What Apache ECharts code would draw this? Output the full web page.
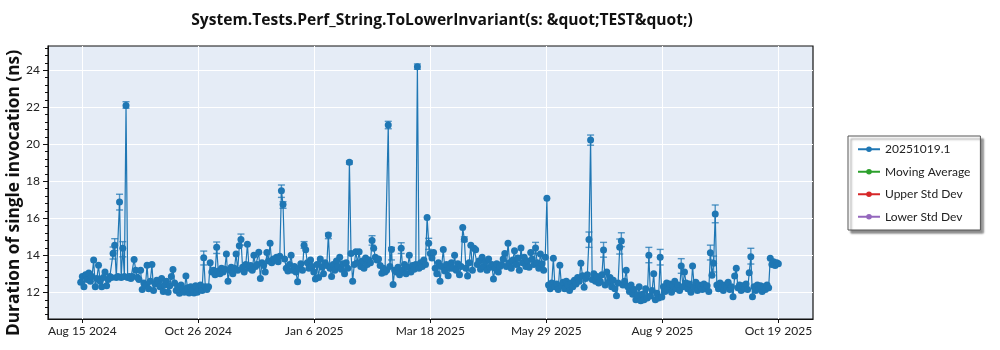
<!DOCTYPE html>
<html>
<head>
<meta charset="utf-8">
<script src="https://cdn.jsdelivr.net/npm/echarts@6/dist/echarts.min.js"></script>
<style>
  html, body { margin: 0; padding: 0; background: #fff; }
  #chart { width: 1000px; height: 350px; }
</style>
</head>
<body>
<div id="chart"></div>
<script>
// daily results, one value per day, per month
var aug24 = [12.55,12.85,12.3,12.95,12.7,13.05,12.6,12.85,13.75,12.3,12.75,13.46,12.6,12.3,12.8,13.1,12.35,12.7]; // from Aug 14
var sep24 = [12.85,12.8,14.1,14.55,12.8,12.85,16.88,12.8,14.38,12.85,22.1,12.8,12.85,12.75,12.85,13.78,13.2,12.8,12.7,13.2,12.15,12.5,12.35,13.47,12.2,12.6,13.5,12.1,12.45,12.65];
var oct24 = [12.55,12.3,12.75,12.05,12.4,12.6,12.0,12.35,12.85,13.24,12.5,12.1,12.3,11.95,12.4,12.2,12.0,12.88,12.25,11.96,12.3,12.1,11.97,12.35,12.0,12.2,12.4,12.1,13.87,12.3,12.15];
var nov24 = [12.3,13.6,13.1,13.2,12.95,14.43,13.15,13.0,13.3,13.1,13.25,14.07,12.6,13.2,13.35,13.0,13.3,14.07,13.2,14.52,14.86,13.35,13.1,13.5,14.6,13.3,13.45,13.2,14.0,13.4];
var dec24 = [13.5,14.16,12.75,13.6,13.45,13.1,14.15,13.7,14.65,13.6,13.8,13.75,13.9,13.65,13.95,17.49,16.74,13.8,13.3,13.15,13.5,14.0,13.2,13.4,13.1,12.57,13.3,13.55,13.2,14.55,14.3];
var jan25 = [13.6,13.3,13.75,13.4,13.1,12.72,13.5,12.8,13.8,13.35,13.0,13.6,13.45,15.1,13.3,12.85,13.5,13.2,13.7,13.4,13.9,13.25,13.55,13.0,13.6,13.3,19.03,14.1,12.6,13.5,14.2];
var feb25 = [13.6,14.2,13.4,13.7,13.3,13.85,13.5,13.75,13.6,14.8,14.38,13.9,13.75,13.8,13.45,13.03,13.3,13.1,13.2,21.04,13.4,14.32,12.43,13.2,13.1,13.35,12.95,14.38];
var mar25 = [13.2,13.5,13.0,13.35,14.0,13.1,13.45,13.25,13.5,24.19,13.3,13.6,13.4,13.75,13.5,16.05,14.65,14.1,13.85,14.15,13.3,13.0,13.6,12.6,13.4,14.32,13.15,13.5,12.9,13.3,13.6];
var apr25 = [13.3,14.0,13.2,13.55,12.95,13.4,15.5,14.86,13.3,12.88,13.6,14.55,13.2,14.38,14.3,13.5,13.7,13.25,13.9,13.4,13.65,13.2,13.8,13.35,13.5,12.72,13.3,13.55,13.1,13.4];
var may25 = [13.5,13.8,14.1,13.4,14.65,13.6,13.3,13.75,14.25,13.5,13.85,13.2,14.4,13.6,13.9,13.4,13.7,13.35,14.15,13.8,13.5,14.4,13.6,13.3,14.07,13.55,13.2,13.9,17.08,12.4,12.2];
var jun25 = [12.5,13.84,12.3,12.45,12.15,13.47,12.35,12.55,12.2,12.6,12.4,12.1,12.5,12.3,12.65,12.45,12.8,12.6,13.57,12.9,12.27,12.75,12.95,14.86,20.23,12.7,13.0,12.6,12.85,12.5];
var jul25 = [12.6,12.95,14.29,12.4,13.1,12.55,12.8,12.3,12.65,12.2,11.82,12.5,14.43,14.77,12.4,12.6,13.2,12.3,12.05,12.4,11.9,12.15,11.6,11.85,12.3,11.55,11.9,11.6,12.2,11.7,14.0];
var aug25 = [11.8,12.1,13.0,11.6,11.95,11.7,13.89,11.75,12.3,12.05,12.5,12.2,12.45,12.0,12.35,12.6,12.2,12.4,12.1,13.42,12.3,13.1,12.5,12.2,12.45,12.0,13.42,12.3,12.55,12.1,12.4];
var sep25 = [12.3,12.15,12.45,12.2,12.35,12.05,14.14,12.93,13.57,16.23,12.4,12.2,12.5,12.25,12.1,12.4,12.3,12.55,12.15,12.3,11.76,12.88,13.3,12.25,12.4,12.1,12.35,12.2,12.45,12.15];
var oct25 = [13.06,13.93,11.76,12.3,12.1,12.4,12.2,12.35,12.05,12.3,12.15,12.4,12.25,13.84,13.5,13.65,13.45,13.6,13.55];

// visible error bars: date, low, high
var errBars = [
  ['2024-09-03', 13.8, 14.45], ['2024-09-04', 14.25, 14.9], ['2024-09-07', 16.45, 17.3],
  ['2024-09-09', 13.92, 14.74], ['2024-09-11', 21.95, 22.3], ['2024-10-29', 13.48, 14.23],
  ['2024-11-06', 14.1, 14.72], ['2024-11-21', 14.55, 15.15], ['2024-12-16', 17.13, 17.8],
  ['2024-12-17', 16.54, 16.9], ['2024-12-30', 14.38, 14.74], ['2025-01-14', 14.9, 15.2],
  ['2025-01-27', 18.93, 19.1], ['2025-02-10', 14.55, 15.06], ['2025-02-20', 20.84, 21.24],
  ['2025-02-22', 13.75, 14.43], ['2025-02-28', 14.1, 14.68], ['2025-03-10', 24.05, 24.34],
  ['2025-03-17', 14.32, 14.92], ['2025-04-08', 14.74, 15.0], ['2025-05-22', 14.1, 14.7],
  ['2025-06-24', 14.43, 15.26], ['2025-06-25', 19.95, 20.5], ['2025-07-03', 13.9, 14.7],
  ['2025-07-13', 14.07, 14.88], ['2025-07-14', 14.47, 15.22], ['2025-07-31', 13.6, 14.43],
  ['2025-08-07', 13.48, 14.32], ['2025-08-20', 13.03, 13.82], ['2025-09-07', 13.75, 14.55],
  ['2025-09-09', 13.1, 13.96], ['2025-09-10', 15.76, 16.72], ['2025-10-02', 13.53, 14.38]
];

var seriesNames = ['20251019.1', 'Moving Average', 'Upper Std Dev', 'Lower Std Dev'];
var seriesColors = ['#1f77b4', '#2ca02c', '#d62728', '#9467bd'];
var xTickDays = [0, 71.6667, 143.3333, 215, 286.6667, 358.3333, 430];
var yTicks = [12, 14, 16, 18, 20, 22, 24];

var DAY = 86400000;
var origin = Date.UTC(2024, 7, 15);
var MONTHS = ['Jan','Feb','Mar','Apr','May','Jun','Jul','Aug','Sep','Oct','Nov','Dec'];

var points = [];
function addMonth(year, month, firstDay, vals) {
    vals.forEach(function (v, i) {
        points.push([(Date.UTC(year, month, firstDay + i) - origin) / DAY, v]);
    });
}
addMonth(2024, 7, 14, aug24); addMonth(2024, 8, 1, sep24); addMonth(2024, 9, 1, oct24);
addMonth(2024, 10, 1, nov24); addMonth(2024, 11, 1, dec24); addMonth(2025, 0, 1, jan25);
addMonth(2025, 1, 1, feb25); addMonth(2025, 2, 1, mar25); addMonth(2025, 3, 1, apr25);
addMonth(2025, 4, 1, may25); addMonth(2025, 5, 1, jun25); addMonth(2025, 6, 1, jul25);
addMonth(2025, 7, 1, aug25); addMonth(2025, 8, 1, sep25); addMonth(2025, 9, 1, oct25);

var errData = errBars.map(function (e) {
    var p = e[0].split('-');
    return [(Date.UTC(+p[0], +p[1] - 1, +p[2]) - origin) / DAY, e[1], e[2]];
});

// minor tick positions on the y axis (every 0.4)
var yMinor = [];
for (var m = 10.8; m < 25.3; m += 0.4) yMinor.push(Math.round(m * 10) / 10);

function dayLabel(v) {
    var d = new Date(origin + Math.ceil(v - 0.001) * DAY);
    return MONTHS[d.getUTCMonth()] + ' ' + d.getUTCDate() + ' ' + d.getUTCFullYear();
}

var FONT = 'Lato';
var myChart = echarts.init(document.getElementById('chart'));
var option = {
    animation: false,
    title: {
        text: 'System.Tests.Perf_String.ToLowerInvariant(s: &quot;TEST&quot;)',
        left: 437, top: 8, textAlign: 'center',
        textStyle: { fontFamily: 'Open Sans', fontSize: 15.6, fontWeight: 'bold', color: '#111' }
    },
    graphic: [{
        type: 'text', x: 14, y: 193, rotation: Math.PI / 2,
        style: {
            text: 'Duration of single invocation (ns)', fontFamily: 'Open Sans', fontSize: 17.3,
            fontWeight: 'bold', fill: '#111', align: 'center', verticalAlign: 'middle'
        }
    }],
    legend: {
        orient: 'vertical', left: 848, top: 136,
        data: seriesNames,
        itemWidth: 22, itemHeight: 7, itemGap: 8,
        padding: [6, 10, 6, 9],
        borderColor: '#555', borderWidth: 1, backgroundColor: '#fff',
        shadowColor: 'rgba(0,0,0,0.45)', shadowBlur: 2, shadowOffsetX: 3, shadowOffsetY: 3,
        textStyle: { fontFamily: FONT, fontSize: 12, color: '#222', lineHeight: 14.5 }
    },
    grid: {
        left: 48, right: 187, top: 46, bottom: 31,
        show: true, backgroundColor: '#E5ECF6', borderColor: '#111', borderWidth: 1.2
    },
    xAxis: {
        type: 'value', min: -21.2, max: 451.4,
        axisLine: { show: true, onZero: false, lineStyle: { color: '#111' } },
        axisTick: { show: true, length: 4, customValues: xTickDays, lineStyle: { color: '#111' } },
        axisLabel: {
            customValues: xTickDays, formatter: dayLabel, margin: 6,
            fontFamily: FONT, fontSize: 12, color: '#222'
        },
        splitLine: { show: true, lineStyle: { color: '#fff', width: 1 } }
    },
    yAxis: [{
        type: 'value', min: 10.56, max: 25.31,
        axisLine: { show: true, onZero: false, lineStyle: { color: '#111' } },
        axisTick: { show: true, length: 5, customValues: yTicks, lineStyle: { color: '#111' } },
        axisLabel: {
            customValues: yTicks, margin: 8,
            fontFamily: FONT, fontSize: 12, color: '#222'
        },
        splitLine: { show: true, lineStyle: { color: '#fff', width: 1 } }
    }, {
        type: 'value', min: 10.56, max: 25.31, position: 'left',
        axisLine: { show: false, onZero: false },
        axisTick: { show: true, length: 3, customValues: yMinor, lineStyle: { color: '#111' } },
        axisLabel: { show: false },
        splitLine: { show: false }
    }],
    series: [{
        name: 'errors', type: 'custom', z: 3,
        data: errData,
        renderItem: function (params, api) {
            var x = api.coord([api.value(0), api.value(1)])[0];
            var lo = api.coord([api.value(0), api.value(1)])[1];
            var hi = api.coord([api.value(0), api.value(2)])[1];
            var st = { stroke: 'rgba(31,119,180,0.75)', lineWidth: 1.4 };
            return {
                type: 'group', children: [
                    { type: 'line', shape: { x1: x, y1: lo, x2: x, y2: hi }, style: st },
                    { type: 'line', shape: { x1: x - 3.5, y1: lo, x2: x + 3.5, y2: lo }, style: st },
                    { type: 'line', shape: { x1: x - 3.5, y1: hi, x2: x + 3.5, y2: hi }, style: st }
                ]
            };
        }
    }, {
        name: seriesNames[0], type: 'line', z: 4,
        data: points, color: seriesColors[0],
        symbol: 'circle', symbolSize: 7, showAllSymbol: true,
        lineStyle: { width: 1.2 },
        emphasis: { disabled: true }
    }, {
        name: seriesNames[1], type: 'line', data: [], color: seriesColors[1], symbol: 'circle'
    }, {
        name: seriesNames[2], type: 'line', data: [], color: seriesColors[2], symbol: 'circle'
    }, {
        name: seriesNames[3], type: 'line', data: [], color: seriesColors[3], symbol: 'circle'
    }]
};
myChart.setOption(option);
</script>
</body>
</html>
